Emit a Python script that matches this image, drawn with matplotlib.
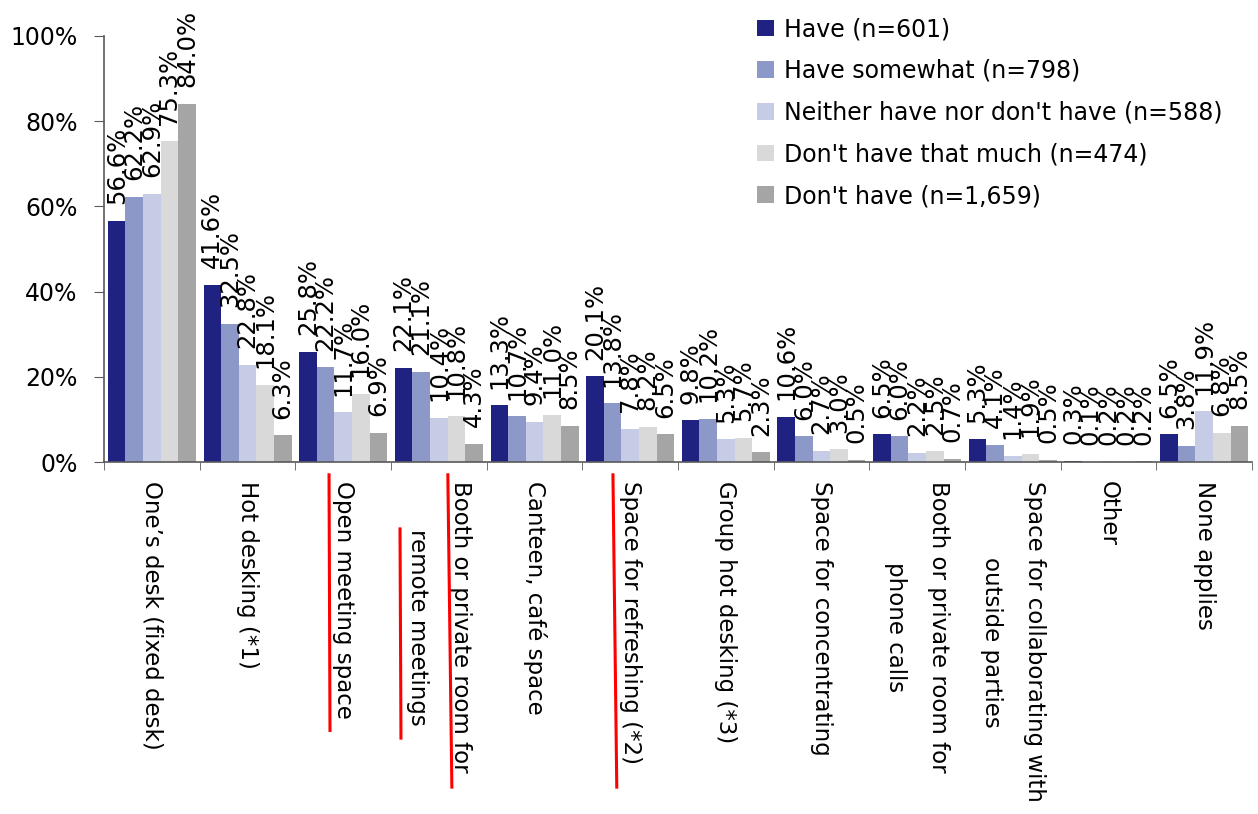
import matplotlib.pyplot as plt
from matplotlib.ticker import FuncFormatter, FixedLocator
import matplotlib.transforms as mtransforms
import numpy as np

plt.rcParams['font.family'] = ['DejaVu Sans']

categories = [
    'One\u2019s desk (fixed desk)',
    'Hot desking (*1)',
    'Open meeting space',
    'Booth or private room for\nremote meetings',
    'Canteen, caf\u00e9 space',
    'Space for refreshing (*2)',
    'Group hot desking (*3)',
    'Space for concentrating',
    'Booth or private room for\nphone calls',
    'Space for collaborating with\noutside parties',
    'Other',
    'None applies',
]

series_names = [
    'Have (n=601)',
    'Have somewhat (n=798)',
    "Neither have nor don't have (n=588)",
    "Don't have that much (n=474)",
    "Don't have (n=1,659)",
]

have          = [56.6, 41.6, 25.8, 22.1, 13.3, 20.1, 9.8, 10.6, 6.5, 5.3, 0.3, 6.5]
have_somewhat = [62.2, 32.5, 22.2, 21.1, 10.7, 13.8, 10.2, 6.0, 6.0, 4.1, 0.1, 3.8]
neither       = [62.9, 22.8, 11.7, 10.4, 9.4, 7.8, 5.3, 2.7, 2.2, 1.4, 0.2, 11.9]
not_much      = [75.3, 18.1, 16.0, 10.8, 11.0, 8.2, 5.7, 3.0, 2.5, 1.9, 0.2, 6.8]
dont_have     = [84.0, 6.3, 6.9, 4.3, 8.5, 6.5, 2.3, 0.5, 0.7, 0.5, 0.2, 8.5]

series = [have, have_somewhat, neither, not_much, dont_have]
colors = ['#1f2280', '#8b98c8', '#c6cbe6', '#d9d9d9', '#a5a5a5']

fig = plt.figure(figsize=(12.58, 8.14), dpi=100)
ax = fig.add_axes([0.0827, 0.4324, 0.9125, 0.5234])

x = np.arange(len(categories))
width = 0.184
for i, (vals, name, col) in enumerate(zip(series, series_names, colors)):
    pos = x + (i - 2) * width
    bars = ax.bar(pos, vals, width, color=col, label=name)
    for xp, v in zip(pos, vals):
        ax.annotate('%.1f%%' % v, (xp, v), xytext=(0, 12), textcoords='offset points',
                    rotation=90, ha='center', va='bottom', fontsize=17.5, color='black')

ax.set_xlim(-0.5, len(categories) - 0.5)
ax.set_ylim(0, 100)
ax.set_yticks([0, 20, 40, 60, 80, 100])
ax.yaxis.set_major_formatter(FuncFormatter(lambda v, p: '%d%%' % v))
ax.tick_params(axis='y', labelsize=17, length=7, color='#595959', pad=12)

ax.set_xticks(x)
ax.set_xticklabels(categories, rotation=270, ha='center', va='top', fontsize=16.5,
                   multialignment='center')
for lbl in ax.get_xticklabels():
    lbl.set_linespacing(2.1)
ax.tick_params(axis='x', which='major', length=0, pad=14)
ax.xaxis.set_minor_locator(FixedLocator(np.arange(-0.5, len(categories), 1.0)))
ax.tick_params(axis='x', which='minor', length=6, color='#595959')

for side in ['top', 'right']:
    ax.spines[side].set_visible(False)
for side in ['left', 'bottom']:
    ax.spines[side].set_color('#595959')
    ax.spines[side].set_linewidth(1.2)

# red underlines beside a few of the category names
trans = mtransforms.blended_transform_factory(ax.transData, ax.transAxes)
marks = [
    (2 - 0.148, 2 - 0.138, -0.03, -0.63),
    (3 + 0.094, 3 + 0.136, -0.03, -0.763),
    (3 - 0.406, 3 - 0.396, -0.157, -0.648),
    (5 - 0.18, 5 - 0.14, -0.03, -0.763),
]
for x0, x1, y0, y1 in marks:
    ax.plot([x0, x1], [y0, y1], color='#ff0000', lw=2.2, transform=trans, clip_on=False)

fig.legend(loc='upper left', bbox_to_anchor=(0.585, 1.005), frameon=False, fontsize=17,
           handlelength=0.7, handleheight=0.7, handletextpad=0.45, labelspacing=0.75)

plt.savefig('out.png', dpi=100)
